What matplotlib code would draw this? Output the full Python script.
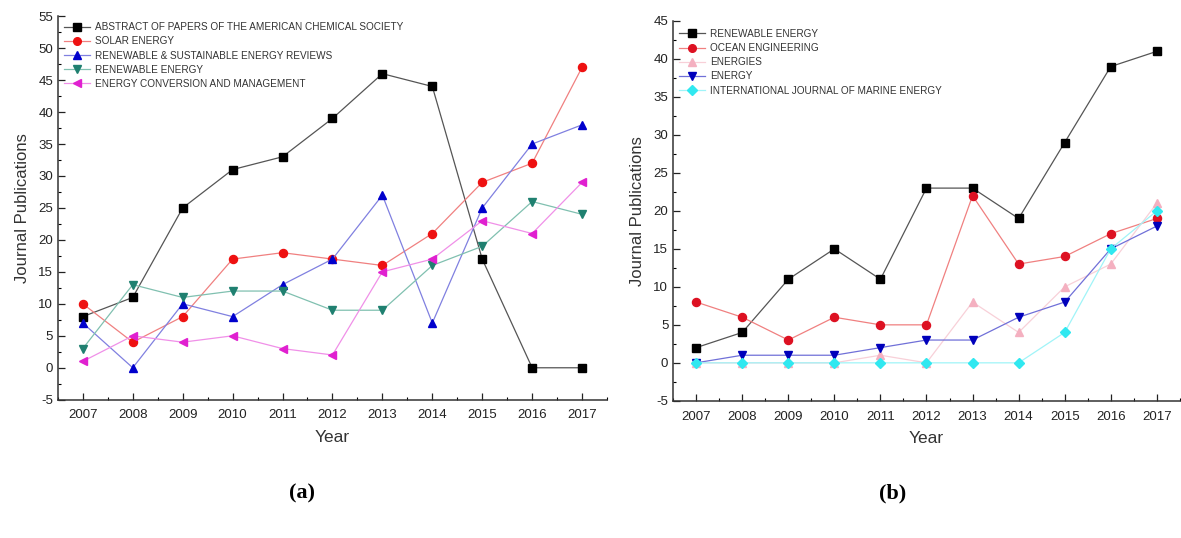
import matplotlib
matplotlib.use("Agg")
import matplotlib.pyplot as plt
from matplotlib.ticker import MultipleLocator

plt.rcParams['font.family'] = ['Liberation Sans', 'DejaVu Sans']
plt.rcParams['axes.unicode_minus'] = False
plt.rcParams['xtick.direction'] = 'in'
plt.rcParams['ytick.direction'] = 'in'

# ---- data ----
years = list(range(2007, 2018))

# (a) top journals
abstracts_acs = [8, 11, 25, 31, 33, 39, 46, 44, 17, 0, 0]
solar_energy = [10, 4, 8, 17, 18, 17, 16, 21, 29, 32, 47]
rser = [7, 0, 10, 8, 13, 17, 27, 7, 25, 35, 38]
renewable_a = [3, 13, 11, 12, 12, 9, 9, 16, 19, 26, 24]
ecm = [1, 5, 4, 5, 3, 2, 15, 17, 23, 21, 29]

# (b) marine-related journals
renewable_b = [2, 4, 11, 15, 11, 23, 23, 19, 29, 39, 41]
ocean_eng = [8, 6, 3, 6, 5, 5, 22, 13, 14, 17, 19]
energies = [0, 0, 0, 0, 1, 0, 8, 4, 10, 13, 21]
energy = [0, 1, 1, 1, 2, 3, 3, 6, 8, 15, 18]
ijme = [0, 0, 0, 0, 0, 0, 0, 0, 4, 15, 20]

series_a = [
    ("ABSTRACT OF PAPERS OF THE AMERICAN CHEMICAL SOCIETY", abstracts_acs, "s", "#000000", "#555555"),
    ("SOLAR ENERGY", solar_energy, "o", "#ee1111", "#f08080"),
    ("RENEWABLE & SUSTAINABLE ENERGY REVIEWS", rser, "^", "#0000cc", "#8080e0"),
    ("RENEWABLE ENERGY", renewable_a, "v", "#1f8070", "#80c0b0"),
    ("ENERGY CONVERSION AND MANAGEMENT", ecm, "<", "#e020d0", "#f090e8"),
]
series_b = [
    ("RENEWABLE ENERGY", renewable_b, "s", "#000000", "#555555"),
    ("OCEAN ENGINEERING", ocean_eng, "o", "#dd1122", "#f08080"),
    ("ENERGIES", energies, "^", "#f4b0c0", "#f8d0d8"),
    ("ENERGY", energy, "v", "#0000bb", "#7070d8"),
    ("INTERNATIONAL JOURNAL OF MARINE ENERGY", ijme, "D", "#30e8f0", "#a0f4f8"),
]

fig = plt.figure(figsize=(11.81, 5.38), dpi=100)
ax_a = fig.add_axes([0.049, 0.257, 0.465, 0.713])
ax_b = fig.add_axes([0.570, 0.255, 0.429, 0.706])


def draw_panel(ax, series, ymax, legend_anchor):
    for label, vals, mk, col, lcol in series:
        ax.plot(years, vals, color=lcol, lw=0.9, marker=mk, ms=5.8 if mk != "D" else 5.0,
                markerfacecolor=col, markeredgecolor=col, label=label)
    ax.set_xlim(2006.5, 2017.5)
    ax.set_ylim(-5, ymax)
    ax.set_xticks(years)
    ax.xaxis.set_minor_locator(MultipleLocator(0.5))
    ax.yaxis.set_major_locator(MultipleLocator(5))
    ax.yaxis.set_minor_locator(MultipleLocator(2.5))
    ax.tick_params(which='major', length=5, width=0.9, labelsize=9.5, colors='#222222')
    ax.tick_params(which='minor', length=2.5, width=0.8)
    ax.tick_params(axis='x', pad=7)
    for side in ("top", "right"):
        ax.spines[side].set_visible(False)
    for side in ("left", "bottom"):
        ax.spines[side].set_linewidth(1.1)
        ax.spines[side].set_color('#333333')
    ax.set_xlabel("Year", fontsize=12.5, color='#333333', labelpad=6)
    ax.set_ylabel("Journal Publications", fontsize=12, color='#333333', labelpad=6)
    ax.legend(loc="upper left", bbox_to_anchor=legend_anchor, frameon=False,
              fontsize=7.2, handlelength=2.6, handletextpad=0.5,
              labelspacing=0.42, borderaxespad=0.2, markerscale=0.95,
              labelcolor='#333333')


draw_panel(ax_a, series_a, 55, (0.0, 1.0))
draw_panel(ax_b, series_b, 45, (0.0, 0.995))

fig.text(0.256, 0.083, "(a)", fontsize=16, fontweight='bold',
         family='Liberation Serif', ha='center', va='center')
fig.text(0.756, 0.083, "(b)", fontsize=16, fontweight='bold',
         family='Liberation Serif', ha='center', va='center')

fig.savefig("out.png", dpi=100)
